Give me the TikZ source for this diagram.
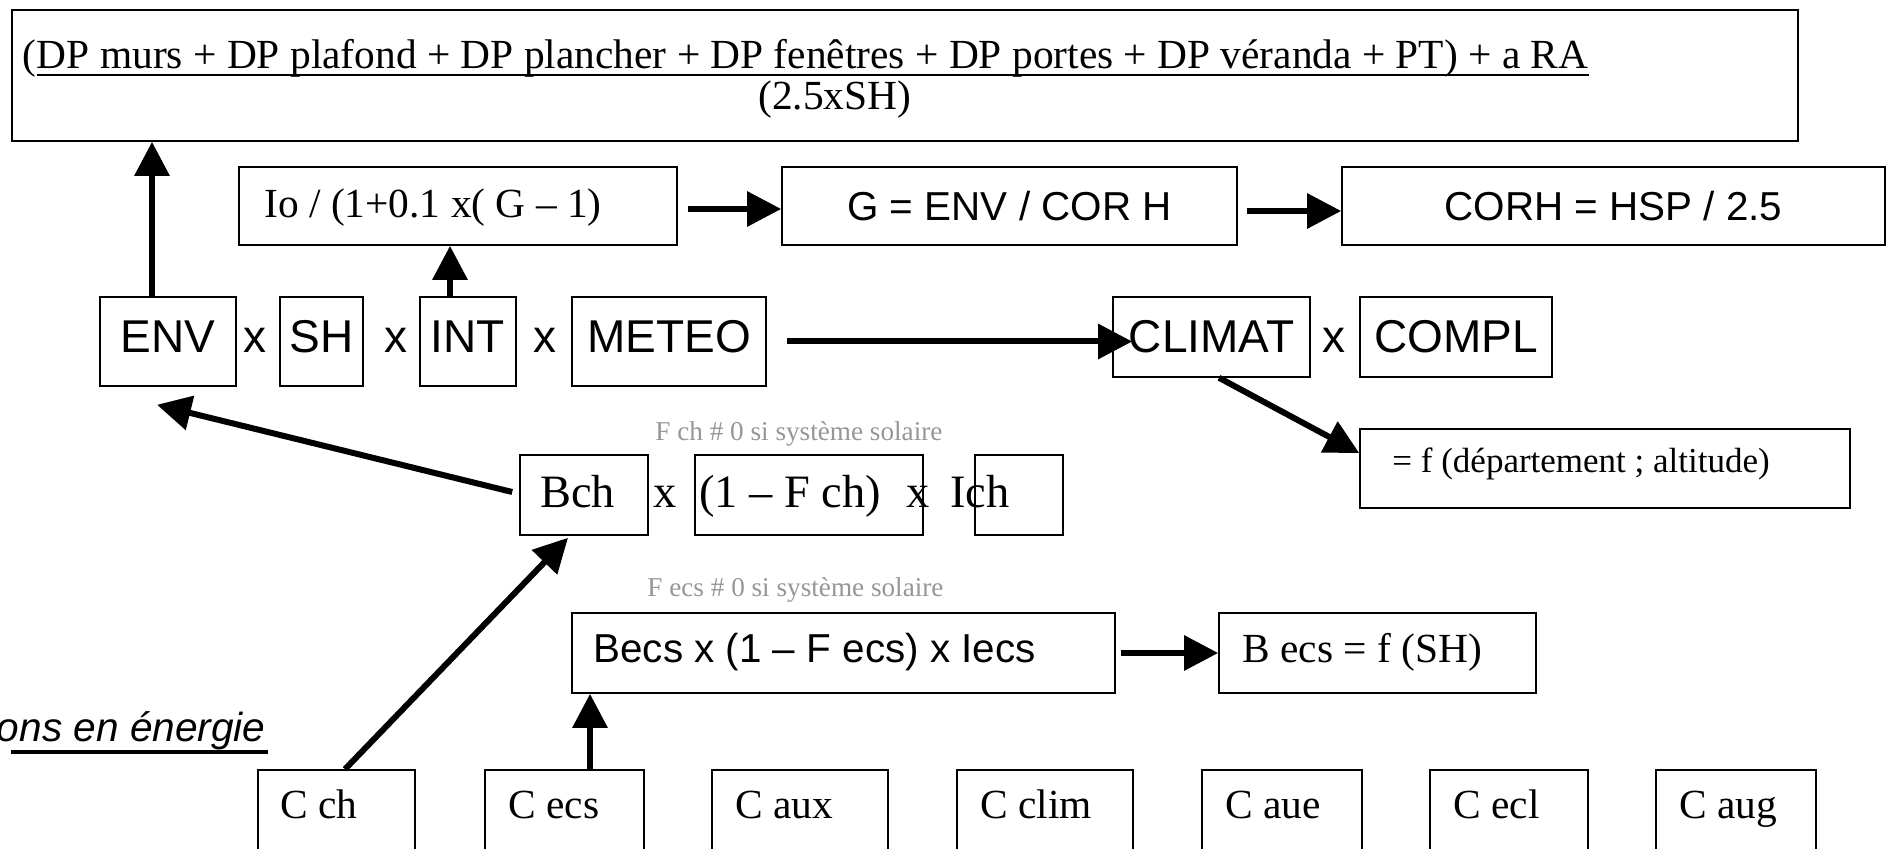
\documentclass[tikz,border=0pt]{standalone}
\usepackage{fontspec}
\setmainfont{Liberation Serif}
\setsansfont{Liberation Sans}
\usetikzlibrary{arrows.meta,fit}
\definecolor{greytxt}{RGB}{150,150,150}
\newcommand\mkbox[5]{%
  \coordinate (#1-a) at (#2,#3);
  \coordinate (#1-b) at (#4,#5);
  \node[boxn, fit=(#1-a)(#1-b)] (#1) {};}
\begin{document}
\begin{tikzpicture}[x=0.5pt,y=-0.5pt,
  boxn/.style={draw, line width=0.8pt, inner sep=0pt},
  arr/.style={line width=3pt, -{Triangle[length=17pt,width=17pt]}},
  tr/.style={inner sep=0pt, anchor=base west, font=\fontsize{20.7}{24}\selectfont},
  trb/.style={inner sep=0pt, anchor=base west, font=\fontsize{23.2}{27}\selectfont},
  trs/.style={inner sep=0pt, anchor=base west, font=\fontsize{17.5}{21}\selectfont},
  grey/.style={inner sep=0pt, anchor=base west, text=greytxt, font=\fontsize{13.6}{17}\selectfont},
  arl/.style={inner sep=0pt, anchor=base, font=\sffamily\fontsize{23}{27}\selectfont},
  arm/.style={inner sep=0pt, font=\sffamily\fontsize{20.2}{24}\selectfont},
  ari/.style={inner sep=0pt, font=\sffamily\itshape\fontsize{20.3}{24}\selectfont}
]
\useasboundingbox (0,0) rectangle (1896,849);

% boxes
\mkbox{top}{12}{10}{1798}{141}
\mkbox{Io}{239}{167}{677}{245}
\mkbox{G}{782}{167}{1237}{245}
\mkbox{CORH}{1342}{167}{1885}{245}
\mkbox{ENV}{100}{297}{236}{386}
\mkbox{SH}{280}{297}{363}{386}
\mkbox{INT}{420}{297}{516}{386}
\mkbox{METEO}{572}{297}{766}{386}
\mkbox{CLIMAT}{1113}{297}{1310}{377}
\mkbox{COMPL}{1360}{297}{1552}{377}
\mkbox{fbox}{1360}{429}{1850}{508}
\mkbox{Bch}{520}{455}{648}{535}
\mkbox{Fch}{695}{455}{923}{535}
\mkbox{Ich}{975}{455}{1063}{535}
\mkbox{Becs}{572}{613}{1115}{693}
\mkbox{Becsf}{1219}{613}{1536}{693}
\mkbox{Cch}{258}{770}{415}{880}
\mkbox{Cecs}{485}{770}{644}{880}
\mkbox{Caux}{712}{770}{888}{880}
\mkbox{Cclim}{957}{770}{1133}{880}
\mkbox{Caue}{1202}{770}{1362}{880}
\mkbox{Cecl}{1430}{770}{1588}{880}
\mkbox{Caug}{1656}{770}{1816}{880}

% top formula
\node[tr] (l1a) at (22,69) {(};
\node[tr] (l1b) at (l1a.base east) {DP murs + DP plafond + DP plancher + DP fenêtres + DP portes + DP véranda + PT) + a RA};
\draw[line width=1pt] ([yshift=-3pt]l1b.base west) -- ([yshift=-3pt]l1b.base east);
\node[tr] (l2) at (758,110) {(2.5xSH)};

% row 2
\node[tr] (tIo) at (264,218) {Io / (1+0.1 x( G – 1)};
\node[arm] (tG) at (G.center) {G = ENV / COR H};
\node[arm] (tC) at (CORH.center) {CORH = HSP / 2.5};

% row 3
\node[arl] (tENV) at (168,353) {ENV};
\node[arl] (x1) at (255,353) {x};
\node[arl] (tSH) at (321.5,353) {SH};
\node[arl] (x2) at (396,353) {x};
\node[arl] (tINT) at (468,353) {INT};
\node[arl] (x3) at (545,353) {x};
\node[arl] (tMET) at (669,353) {METEO};
\node[arl] (tCLI) at (1211.5,353) {CLIMAT};
\node[arl] (x4) at (1334,353) {x};
\node[arl] (tCOM) at (1456,353) {COMPL};

% f box
\node[trs] (tf) at (1392,473) {= f (département ; altitude)};

% Bch row
\node[grey] (gch) at (655,441) {F ch \# 0 si système solaire};
\node[trb] (tBch) at (540,508) {Bch};
\node[trb] (x5) at (653,508) {x};
\node[trb] (tFch) at (699,508) {(1 – F ch)};
\node[trb] (x6) at (906,508) {x};
\node[trb] (tIch) at (950,508) {Ich};

% Becs row
\node[grey] (gecs) at (647,597) {F ecs \# 0 si système solaire};
\node[arm, anchor=base west] (tBecs) at (593,662) {Becs x (1 – F ecs) x Iecs};
\node[tr] (tBf) at (1242,662) {B ecs = f (SH)};

% left label
\node[ari, anchor=base east] (lt) at (266,741) {ons en énergie};
\draw[line width=1.6pt] ([yshift=-5.5pt]lt.base west -| top.west) -- ([xshift=1pt,yshift=-5.5pt]lt.base east);

% bottom boxes text
\node[tr] at (280,818) {C ch};
\node[tr] at (508,818) {C ecs};
\node[tr] at (735,818) {C aux};
\node[tr] at (980,818) {C clim};
\node[tr] at (1225,818) {C aue};
\node[tr] at (1453,818) {C ecl};
\node[tr] at (1679,818) {C aug};

% connectors
\draw[arr] ([xshift=-8pt]ENV.north) -- ([xshift=-8pt]ENV.north |- top.south);
\draw[arr] ([xshift=-9pt]INT.north) -- ([xshift=-9pt]INT.north |- Io.south);
\draw[arr] ([xshift=5pt,yshift=-1.5pt]Io.east) -- ([yshift=-1.5pt]G.west);
\draw[arr] ([xshift=4.5pt,yshift=-2.5pt]G.east) -- ([yshift=-2.5pt]CORH.west);
\draw[arr] ([xshift=10pt]METEO.east) -- ([xshift=10pt]METEO.east -| CLIMAT.west);
\draw[arr] ([xshift=3.75pt]CLIMAT.south) -- ([yshift=7.75pt]fbox.west);
\draw[arr] ([xshift=-3.5pt,yshift=1.5pt]Bch.west) -- ([xshift=-5.5pt,yshift=-9pt]ENV.south);
\draw[arr] ([xshift=4.25pt]Cch.north) -- ([xshift=-8pt,yshift=-1pt]Bch.south);
\draw[arr] ([xshift=12.75pt]Cecs.north) -- ([xshift=12.75pt]Cecs.north |- Becs.south);
\draw[arr] ([xshift=2.5pt]Becs.east) -- (Becsf.west);
\end{tikzpicture}
\end{document}
